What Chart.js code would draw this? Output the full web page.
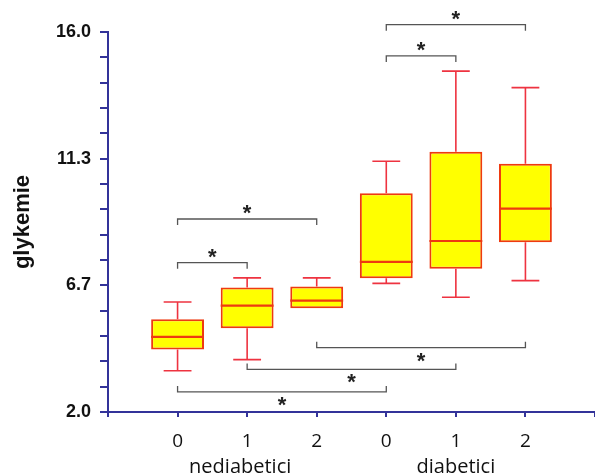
<!DOCTYPE html>
<html>
<head>
<meta charset="utf-8">
<script src="https://cdn.jsdelivr.net/npm/chart.js@4.4.0/dist/chart.umd.min.js"></script>
<style>
  html, body { margin: 0; padding: 0; background: #fff; }
  #wrap { width: 595px; height: 476px; }
</style>
</head>
<body>
<div id="wrap"><canvas id="graf"></canvas></div>
<script>
// kategorie na ose x
const categories = ['0', '1', '2', '0', '1', '2'];
const groupNames = ['nediabetici', 'diabetici'];
const groupCenters = [0.9, 4];

// boxploty: vousy, kvartily, medián
const whiskerLow  = [3.52, 3.93, 5.82, 6.74, 6.23, 6.84];
const q1          = [4.30, 5.09, 5.82, 6.93, 7.28, 8.25];
const median      = [4.77, 5.92, 6.10, 7.53, 8.30, 9.49];
const q3          = [5.42, 6.59, 6.62, 10.06, 11.59, 11.15];
const whiskerHigh = [6.05, 6.94, 6.94, 11.24, 14.56, 13.95];

// osa y
const yMin = 2.0;
const yMax = 16.0;
const yLabels = ['2.0', '6.7', '11.3', '16.0'];
const minorPerLabel = 5;

// závorky významnosti (*)
const bracketFrom  = [0, 0, 3, 3, 2, 1, 0];
const bracketTo    = [1, 2, 4, 5, 5, 4, 3];
const bracketLevel = [7.50, 9.11, 15.12, 16.27, 4.37, 3.57, 2.74];
const bracketSide  = ['top', 'top', 'top', 'top', 'bottom', 'bottom', 'bottom'];

const AXIS = '#333399';

const boxPlugin = {
  id: 'boxPlugin',
  afterDatasetsDraw(chart) {
    const { ctx, scales: { x, y } } = chart;
    const bars = chart.getDatasetMeta(0).data;
    ctx.save();
    // vousy
    ctx.strokeStyle = '#ee3340';
    ctx.lineWidth = 1.6;
    categories.forEach((c, i) => {
      const cx = x.getPixelForValue(i);
      const l = x.getPixelForValue(i - 0.2);
      const r = x.getPixelForValue(i + 0.2);
      ctx.beginPath();
      ctx.moveTo(cx, y.getPixelForValue(q3[i]));
      ctx.lineTo(cx, y.getPixelForValue(whiskerHigh[i]));
      ctx.moveTo(l, y.getPixelForValue(whiskerHigh[i]));
      ctx.lineTo(r, y.getPixelForValue(whiskerHigh[i]));
      if (whiskerLow[i] < q1[i]) {
        ctx.moveTo(cx, y.getPixelForValue(q1[i]));
        ctx.lineTo(cx, y.getPixelForValue(whiskerLow[i]));
        ctx.moveTo(l, y.getPixelForValue(whiskerLow[i]));
        ctx.lineTo(r, y.getPixelForValue(whiskerLow[i]));
      }
      ctx.stroke();
    });
    // medián
    ctx.strokeStyle = '#ee3a10';
    ctx.lineWidth = 2.2;
    categories.forEach((c, i) => {
      const w = bars[i].width / 2;
      const cx = x.getPixelForValue(i);
      const my = y.getPixelForValue(median[i]);
      ctx.beginPath();
      ctx.moveTo(cx - w, my);
      ctx.lineTo(cx + w, my);
      ctx.stroke();
    });
    ctx.restore();
  },
  afterDraw(chart) {
    const { ctx, scales: { x, y } } = chart;
    ctx.save();
    // závorky
    ctx.strokeStyle = '#555';
    ctx.lineWidth = 1.3;
    ctx.fillStyle = '#222';
    ctx.font = 'bold 22px "Liberation Sans", Arial, sans-serif';
    ctx.textAlign = 'center';
    ctx.textBaseline = 'alphabetic';
    const m = ctx.measureText('*');
    const mid = (m.actualBoundingBoxDescent - m.actualBoundingBoxAscent) / 2;
    bracketFrom.forEach((f, i) => {
      const x1 = x.getPixelForValue(f);
      const x2 = x.getPixelForValue(bracketTo[i]);
      const by = y.getPixelForValue(bracketLevel[i]);
      const dir = bracketSide[i] === 'top' ? 1 : -1;
      ctx.beginPath();
      ctx.moveTo(x1, by + 6 * dir);
      ctx.lineTo(x1, by);
      ctx.lineTo(x2, by);
      ctx.lineTo(x2, by + 6 * dir);
      ctx.stroke();
      const ty = by - 9.5 * dir;
      ctx.fillText('*', (x1 + x2) / 2, ty - mid);
    });
    // názvy skupin
    ctx.fillStyle = '#111';
    ctx.font = '20px "Open Sans", sans-serif';
    groupNames.forEach((g, i) => {
      ctx.fillText(g, x.getPixelForValue(groupCenters[i]), 473);
    });
    ctx.restore();
  }
};

new Chart(document.getElementById('graf'), {
  type: 'bar',
  data: {
    datasets: [{
      data: categories.map((c, i) => ({ x: i, y: [q1[i], q3[i]] })),
      backgroundColor: '#ffff00',
      borderColor: '#ee3a10',
      borderWidth: 2,
      borderSkipped: false,
      barPercentage: 0.76,
      categoryPercentage: 1
    }]
  },
  options: {
    responsive: true,
    maintainAspectRatio: false,
    animation: false,
    layout: { padding: { top: 32, right: 0, left: 0, bottom: 0 } },
    plugins: {
      legend: { display: false },
      tooltip: { enabled: false }
    },
    scales: {
      x: {
        type: 'linear',
        min: -1,
        max: 6,
        offset: false,
        afterBuildTicks(scale) {
          scale.ticks = [-1, 0, 1, 2, 3, 4, 5, 6].map(v => ({ value: v }));
        },
        ticks: {
          autoSkip: false,
          maxRotation: 0,
          callback: v => categories[v] !== undefined ? categories[v] : '',
          font: { family: '"Open Sans", sans-serif', size: 19, lineHeight: 2.58 },
          color: '#111',
          padding: 0
        },
        grid: { offset: false, drawOnChartArea: false, tickLength: 5, color: AXIS, lineWidth: 2 },
        border: { color: AXIS, width: 2 },
        afterFit(scale) { scale.height = 64; }
      },
      y: {
        type: 'linear',
        min: yMin,
        max: yMax,
        afterBuildTicks(scale) {
          const n = (yLabels.length - 1) * minorPerLabel;
          scale.ticks = Array.from({ length: n + 1 }, (_, i) => ({ value: yMin + i * (yMax - yMin) / n }));
        },
        ticks: {
          autoSkip: false,
          callback: (v, i) => i % minorPerLabel === 0 ? yLabels[i / minorPerLabel] : '',
          font: { family: '"Liberation Sans", Arial, sans-serif', size: 18, weight: 'bold' },
          color: '#111',
          padding: 9
        },
        grid: { drawOnChartArea: false, tickLength: 8, color: AXIS, lineWidth: 2 },
        border: { color: AXIS, width: 2 },
        title: {
          display: true,
          text: 'glykemie',
          font: { family: '"Liberation Sans", Arial, sans-serif', size: 22, weight: 'bold' },
          color: '#111',
          padding: { top: 10, bottom: 0 }
        },
        afterFit(scale) { scale.width = 108; }
      }
    }
  },
  plugins: [boxPlugin]
});
</script>
</body>
</html>
